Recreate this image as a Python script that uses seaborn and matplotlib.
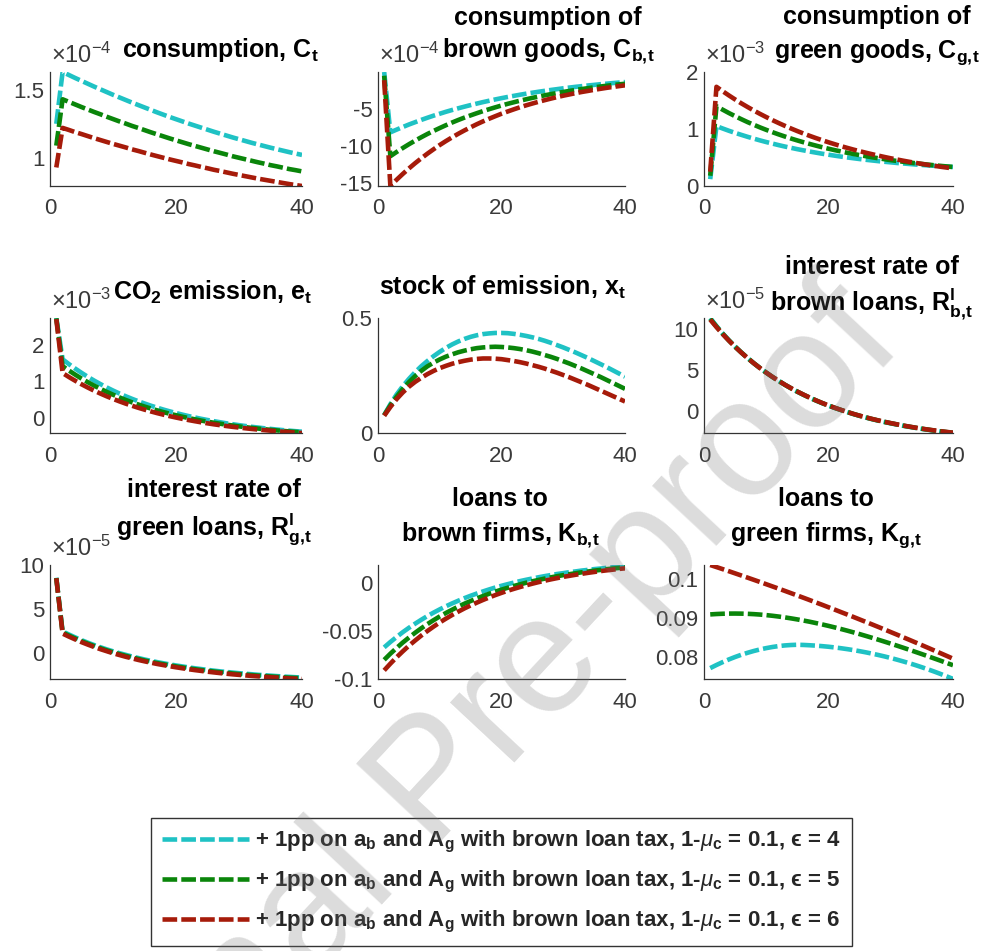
import matplotlib
matplotlib.use("Agg")
import matplotlib.pyplot as plt
import seaborn as sns
import pandas as pd
from matplotlib.ticker import FuncFormatter

# ---------------- data ----------------
t = list(range(1, 41))

run_labels = [
    r"+ 1pp on $\mathbf{a_b}$ and $\mathbf{A_g}$ with brown loan tax, 1-$\mu_\mathbf{c}$ = 0.1, ϵ = 4",
    r"+ 1pp on $\mathbf{a_b}$ and $\mathbf{A_g}$ with brown loan tax, 1-$\mu_\mathbf{c}$ = 0.1, ϵ = 5",
    r"+ 1pp on $\mathbf{a_b}$ and $\mathbf{A_g}$ with brown loan tax, 1-$\mu_\mathbf{c}$ = 0.1, ϵ = 6",
]
run_colors = ["#1FC2C4", "#0A850A", "#A61B0A"]

# consumption C_t (x1e-4)
C_cyan = [1.25, 1.63, 1.608, 1.586, 1.565, 1.544, 1.523, 1.503, 1.483, 1.463, 1.444, 1.425, 1.406, 1.388, 1.370, 1.352, 1.334, 1.317, 1.300, 1.284, 1.268, 1.252, 1.237, 1.222, 1.207, 1.192, 1.178, 1.164, 1.150, 1.137, 1.124, 1.111, 1.099, 1.087, 1.075, 1.064, 1.053, 1.042, 1.032, 1.022]
C_green = [1.09, 1.43, 1.411, 1.392, 1.373, 1.355, 1.337, 1.320, 1.302, 1.285, 1.268, 1.252, 1.235, 1.220, 1.204, 1.188, 1.173, 1.158, 1.143, 1.129, 1.115, 1.101, 1.088, 1.075, 1.062, 1.049, 1.037, 1.025, 1.012, 1.001, 0.990, 0.979, 0.968, 0.958, 0.947, 0.938, 0.928, 0.918, 0.910, 0.901]
C_red = [0.93, 1.22, 1.205, 1.189, 1.175, 1.160, 1.145, 1.131, 1.117, 1.103, 1.090, 1.077, 1.063, 1.051, 1.038, 1.025, 1.013, 1.001, 0.989, 0.978, 0.967, 0.955, 0.945, 0.934, 0.924, 0.913, 0.904, 0.894, 0.884, 0.875, 0.866, 0.857, 0.848, 0.840, 0.832, 0.824, 0.816, 0.808, 0.801, 0.794]

# consumption of brown goods C_b (x1e-4)
Cb_cyan = [-0.10, -8.20, -7.84, -7.49, -7.15, -6.84, -6.53, -6.24, -5.96, -5.70, -5.44, -5.20, -4.97, -4.75, -4.54, -4.34, -4.14, -3.96, -3.78, -3.61, -3.45, -3.30, -3.15, -3.01, -2.88, -2.75, -2.63, -2.51, -2.40, -2.29, -2.19, -2.09, -2.00, -1.91, -1.83, -1.74, -1.67, -1.59, -1.52, -1.45]
Cb_green = [-0.60, -11.40, -10.84, -10.31, -9.80, -9.32, -8.86, -8.42, -8.01, -7.62, -7.24, -6.88, -6.54, -6.22, -5.92, -5.63, -5.35, -5.09, -4.84, -4.60, -4.37, -4.16, -3.95, -3.76, -3.57, -3.40, -3.23, -3.07, -2.92, -2.78, -2.64, -2.51, -2.39, -2.27, -2.16, -2.05, -1.95, -1.85, -1.76, -1.68]
Cb_red = [-1.20, -15.40, -14.57, -13.79, -13.05, -12.35, -11.69, -11.06, -10.47, -9.90, -9.37, -8.87, -8.39, -7.94, -7.52, -7.11, -6.73, -6.37, -6.03, -5.70, -5.40, -5.11, -4.83, -4.57, -4.33, -4.10, -3.88, -3.67, -3.47, -3.28, -3.11, -2.94, -2.78, -2.64, -2.49, -2.36, -2.23, -2.11, -2.00, -1.89]

# consumption of green goods C_g (x1e-3)
Cg_cyan = [0.12, 1.050, 1.009, 0.969, 0.932, 0.897, 0.863, 0.831, 0.800, 0.771, 0.744, 0.717, 0.692, 0.669, 0.646, 0.625, 0.604, 0.585, 0.566, 0.549, 0.532, 0.516, 0.501, 0.487, 0.473, 0.460, 0.448, 0.436, 0.425, 0.415, 0.404, 0.395, 0.386, 0.377, 0.369, 0.361, 0.354, 0.347, 0.340, 0.334]
Cg_green = [0.18, 1.400, 1.339, 1.280, 1.225, 1.172, 1.121, 1.074, 1.028, 0.985, 0.944, 0.905, 0.868, 0.832, 0.799, 0.767, 0.737, 0.708, 0.680, 0.654, 0.629, 0.606, 0.583, 0.562, 0.542, 0.523, 0.504, 0.487, 0.470, 0.454, 0.439, 0.425, 0.412, 0.399, 0.387, 0.375, 0.364, 0.353, 0.343, 0.334]
Cg_red = [0.25, 1.740, 1.663, 1.589, 1.518, 1.450, 1.386, 1.324, 1.265, 1.209, 1.155, 1.104, 1.055, 1.008, 0.963, 0.920, 0.879, 0.840, 0.803, 0.767, 0.733, 0.700, 0.669, 0.639, 0.611, 0.584, 0.558, 0.533, 0.509, 0.486, 0.465, 0.444, 0.424, 0.406, 0.387, 0.370, 0.354, 0.338, 0.323, 0.309]

# CO2 emission e_t (x1e-3)
e_cyan = [2.75, 1.610, 1.477, 1.353, 1.236, 1.125, 1.022, 0.925, 0.833, 0.747, 0.666, 0.590, 0.519, 0.452, 0.389, 0.329, 0.274, 0.221, 0.172, 0.126, 0.082, 0.041, 0.003, -0.034, -0.067, -0.099, -0.129, -0.158, -0.184, -0.209, -0.233, -0.255, -0.275, -0.295, -0.313, -0.330, -0.347, -0.362, -0.376, -0.390]
e_green = [2.74, 1.420, 1.299, 1.185, 1.078, 0.977, 0.883, 0.794, 0.710, 0.632, 0.558, 0.488, 0.423, 0.362, 0.304, 0.250, 0.199, 0.151, 0.106, 0.064, 0.024, -0.014, -0.049, -0.083, -0.113, -0.143, -0.170, -0.196, -0.220, -0.243, -0.265, -0.285, -0.303, -0.321, -0.338, -0.354, -0.369, -0.383, -0.396, -0.408]
e_red = [2.72, 1.230, 1.120, 1.017, 0.920, 0.829, 0.743, 0.663, 0.587, 0.516, 0.449, 0.386, 0.327, 0.271, 0.219, 0.170, 0.123, 0.080, 0.039, 0.001, -0.035, -0.069, -0.101, -0.131, -0.159, -0.186, -0.210, -0.234, -0.256, -0.276, -0.296, -0.314, -0.331, -0.347, -0.362, -0.377, -0.390, -0.403, -0.415, -0.426]

# stock of emission x_t
x_cyan = [0.078, 0.125, 0.167, 0.203, 0.235, 0.264, 0.290, 0.313, 0.334, 0.353, 0.370, 0.385, 0.398, 0.409, 0.418, 0.425, 0.430, 0.433, 0.435, 0.435, 0.434, 0.431, 0.427, 0.422, 0.416, 0.409, 0.401, 0.392, 0.382, 0.372, 0.361, 0.350, 0.338, 0.326, 0.313, 0.300, 0.287, 0.273, 0.259, 0.245]
x_green = [0.077, 0.120, 0.157, 0.191, 0.221, 0.247, 0.270, 0.290, 0.306, 0.320, 0.332, 0.342, 0.351, 0.358, 0.364, 0.369, 0.372, 0.374, 0.375, 0.374, 0.372, 0.369, 0.365, 0.360, 0.354, 0.347, 0.339, 0.331, 0.322, 0.312, 0.302, 0.291, 0.280, 0.268, 0.256, 0.244, 0.231, 0.218, 0.205, 0.192]
x_red = [0.075, 0.113, 0.147, 0.176, 0.201, 0.222, 0.240, 0.256, 0.270, 0.282, 0.292, 0.301, 0.308, 0.314, 0.319, 0.322, 0.324, 0.324, 0.323, 0.321, 0.317, 0.313, 0.308, 0.302, 0.295, 0.288, 0.280, 0.271, 0.262, 0.252, 0.242, 0.231, 0.220, 0.209, 0.197, 0.185, 0.173, 0.161, 0.149, 0.137]

# interest rate of brown loans R^l_b (x1e-5)
Rb_cyan = [11.40, 10.42, 9.51, 8.68, 7.90, 7.18, 6.50, 5.87, 5.27, 4.71, 4.18, 3.69, 3.22, 2.78, 2.37, 1.99, 1.63, 1.29, 0.97, 0.67, 0.39, 0.13, -0.12, -0.36, -0.58, -0.79, -0.99, -1.17, -1.34, -1.50, -1.65, -1.80, -1.93, -2.06, -2.18, -2.29, -2.40, -2.50, -2.59, -2.68]
Rb_green = [11.30, 10.35, 9.47, 8.65, 7.88, 7.17, 6.50, 5.86, 5.27, 4.71, 4.18, 3.69, 3.22, 2.79, 2.38, 2.00, 1.64, 1.30, 0.98, 0.68, 0.40, 0.14, -0.11, -0.35, -0.57, -0.78, -0.97, -1.15, -1.32, -1.48, -1.63, -1.78, -1.91, -2.04, -2.16, -2.27, -2.38, -2.48, -2.57, -2.66]
Rb_red = [11.20, 10.29, 9.43, 8.63, 7.87, 7.16, 6.49, 5.86, 5.27, 4.71, 4.19, 3.70, 3.23, 2.80, 2.39, 2.01, 1.65, 1.31, 0.99, 0.69, 0.41, 0.15, -0.10, -0.34, -0.56, -0.76, -0.96, -1.14, -1.31, -1.47, -1.62, -1.77, -1.90, -2.03, -2.15, -2.26, -2.36, -2.46, -2.55, -2.64]

# interest rate of green loans R^l_g (x1e-5)
Rg_cyan = [8.55, 2.45, 2.10, 1.77, 1.46, 1.17, 0.90, 0.65, 0.41, 0.19, -0.02, -0.21, -0.40, -0.57, -0.74, -0.89, -1.04, -1.17, -1.30, -1.42, -1.53, -1.64, -1.74, -1.83, -1.92, -2.01, -2.09, -2.16, -2.23, -2.30, -2.36, -2.42, -2.48, -2.53, -2.58, -2.63, -2.68, -2.72, -2.76, -2.80]
Rg_green = [8.52, 2.32, 1.98, 1.65, 1.34, 1.06, 0.79, 0.54, 0.30, 0.08, -0.13, -0.32, -0.51, -0.68, -0.85, -1.00, -1.15, -1.28, -1.41, -1.53, -1.64, -1.75, -1.85, -1.94, -2.03, -2.11, -2.19, -2.26, -2.33, -2.40, -2.46, -2.52, -2.57, -2.62, -2.67, -2.72, -2.77, -2.81, -2.84, -2.88]
Rg_red = [8.50, 2.20, 1.86, 1.54, 1.23, 0.95, 0.68, 0.43, 0.20, -0.03, -0.23, -0.43, -0.61, -0.79, -0.95, -1.10, -1.25, -1.38, -1.51, -1.63, -1.74, -1.85, -1.95, -2.04, -2.13, -2.21, -2.29, -2.36, -2.43, -2.49, -2.55, -2.61, -2.66, -2.71, -2.76, -2.80, -2.85, -2.89, -2.92, -2.96]

# loans to brown firms K_b
Kb_cyan = [-0.0670, -0.0614, -0.0562, -0.0512, -0.0466, -0.0423, -0.0382, -0.0343, -0.0307, -0.0273, -0.0241, -0.0211, -0.0183, -0.0156, -0.0131, -0.0108, -0.0086, -0.0065, -0.0045, -0.0027, -0.0010, 0.0006, 0.0022, 0.0036, 0.0049, 0.0062, 0.0074, 0.0085, 0.0096, 0.0105, 0.0115, 0.0123, 0.0132, 0.0139, 0.0147, 0.0153, 0.0160, 0.0166, 0.0171, 0.0177]
Kb_green = [-0.0800, -0.0736, -0.0677, -0.0620, -0.0568, -0.0518, -0.0471, -0.0427, -0.0386, -0.0347, -0.0311, -0.0277, -0.0244, -0.0214, -0.0186, -0.0159, -0.0134, -0.0110, -0.0088, -0.0067, -0.0048, -0.0029, -0.0012, 0.0005, 0.0020, 0.0034, 0.0048, 0.0061, 0.0073, 0.0084, 0.0094, 0.0104, 0.0114, 0.0122, 0.0131, 0.0138, 0.0146, 0.0153, 0.0159, 0.0165]
Kb_red = [-0.0910, -0.0840, -0.0774, -0.0712, -0.0653, -0.0599, -0.0547, -0.0499, -0.0453, -0.0410, -0.0370, -0.0332, -0.0297, -0.0263, -0.0232, -0.0203, -0.0175, -0.0149, -0.0124, -0.0101, -0.0079, -0.0059, -0.0040, -0.0022, -0.0005, 0.0011, 0.0026, 0.0040, 0.0053, 0.0066, 0.0077, 0.0088, 0.0098, 0.0108, 0.0117, 0.0126, 0.0134, 0.0141, 0.0149, 0.0155]

# loans to green firms K_g
Kg_cyan = [0.07720, 0.07800, 0.07874, 0.07943, 0.08006, 0.08063, 0.08114, 0.08160, 0.08200, 0.08234, 0.08263, 0.08286, 0.08303, 0.08314, 0.08320, 0.08315, 0.08307, 0.08297, 0.08284, 0.08269, 0.08251, 0.08231, 0.08208, 0.08183, 0.08155, 0.08125, 0.08092, 0.08057, 0.08020, 0.07980, 0.07937, 0.07892, 0.07845, 0.07795, 0.07742, 0.07687, 0.07630, 0.07570, 0.07507, 0.07442]
Kg_green = [0.09100, 0.09110, 0.09117, 0.09121, 0.09122, 0.09120, 0.09115, 0.09107, 0.09096, 0.09082, 0.09065, 0.09045, 0.09023, 0.08998, 0.08971, 0.08942, 0.08911, 0.08877, 0.08842, 0.08805, 0.08766, 0.08725, 0.08683, 0.08639, 0.08594, 0.08547, 0.08499, 0.08450, 0.08400, 0.08349, 0.08297, 0.08244, 0.08190, 0.08135, 0.08080, 0.08024, 0.07967, 0.07910, 0.07852, 0.07794]
Kg_red = [0.10370, 0.10317, 0.10264, 0.10210, 0.10155, 0.10100, 0.10045, 0.09989, 0.09933, 0.09876, 0.09819, 0.09762, 0.09704, 0.09645, 0.09586, 0.09527, 0.09467, 0.09406, 0.09346, 0.09284, 0.09223, 0.09160, 0.09098, 0.09035, 0.08971, 0.08907, 0.08843, 0.08778, 0.08712, 0.08646, 0.08580, 0.08513, 0.08446, 0.08378, 0.08310, 0.08241, 0.08172, 0.08103, 0.08033, 0.07962]

panel_titles = [
    ["consumption, $\\mathbf{C_t}$"],
    ["consumption of", "brown goods, $\\mathbf{C_{b,\\!t}}$"],
    ["consumption of", "green goods, $\\mathbf{C_{g,\\!t}}$"],
    ["CO$\\mathbf{_2}$ emission, $\\mathbf{e_t}$"],
    ["stock of emission, $\\mathbf{x_t}$"],
    ["interest rate of", "brown loans, $\\mathbf{R^l_{b,\\!t}}$"],
    ["interest rate of", "green loans, $\\mathbf{R^l_{g,\\!t}}$"],
    ["loans to", "brown firms, $\\mathbf{K_{b,\\!t}}$"],
    ["loans to", "green firms, $\\mathbf{K_{g,\\!t}}$"],
]
panel_series = [
    (C_cyan, C_green, C_red),
    (Cb_cyan, Cb_green, Cb_red),
    (Cg_cyan, Cg_green, Cg_red),
    (e_cyan, e_green, e_red),
    (x_cyan, x_green, x_red),
    (Rb_cyan, Rb_green, Rb_red),
    (Rg_cyan, Rg_green, Rg_red),
    (Kb_cyan, Kb_green, Kb_red),
    (Kg_cyan, Kg_green, Kg_red),
]
panel_exponents = ["-4", "-4", "-3", "-3", None, "-5", "-5", None, None]
panel_yticks = [
    [1, 1.5], [-15, -10, -5], [0, 1, 2], [0, 1, 2], [0, 0.5],
    [0, 5, 10], [0, 5, 10], [-0.1, -0.05, 0], [0.08, 0.09, 0.1],
]
x_ticks = [0, 20, 40]

# ---------------- layout (pixels in a 995 x 951 canvas) ----------------
W, H = 995, 951
col_left = [50, 378, 704]
col_width = [252, 247, 249]
row_top = [72, 318, 565]
row_bottom = [186, 433, 679]
panel_ylim = [
    (0.794, 1.63), (-15.4, -0.1), (0, 2), (-0.426, 2.75), (0, 0.5),
    (-2.68, 11.4), (-2.96, 10), (-0.1, 0.019), (0.0744, 0.1037),
]
title_cx = [220, 548, 877, 213, 502, 872, 214, 500, 826]
title_base = [[57], [25, 57], [24, 58], [300], [295], [274, 311], [497, 535], [506, 541], [506, 541]]

# ---------------- style ----------------
sns.set_theme(style="white")
plt.rcParams["font.family"] = ["Liberation Sans", "DejaVu Sans"]
plt.rcParams["mathtext.fontset"] = "custom"
plt.rcParams["mathtext.rm"] = "Liberation Sans"
plt.rcParams["mathtext.it"] = "Liberation Sans:italic"
plt.rcParams["mathtext.bf"] = "Liberation Sans:bold"
plt.rcParams["mathtext.fallback"] = "cm"

axis_grey = "#333333"
label_grey = "#3a3a3a"
dash = (3.2, 0.9)
lw = 3.3

fig = plt.figure(figsize=(W / 100, H / 100), dpi=100)
fig.patch.set_facecolor("white")

legend_handles = None
for i in range(9):
    r, c = divmod(i, 3)
    left = col_left[c] / W
    bottom = 1 - row_bottom[r] / H
    width = col_width[c] / W
    height = (row_bottom[r] - row_top[r]) / H
    ax = fig.add_axes([left, bottom, width, height])

    s_cyan, s_green, s_red = panel_series[i]
    df = pd.DataFrame({
        "t": t * 3,
        "v": list(s_cyan) + list(s_green) + list(s_red),
        "run": [run_labels[0]] * 40 + [run_labels[1]] * 40 + [run_labels[2]] * 40,
    })
    sns.lineplot(data=df, x="t", y="v", hue="run", hue_order=run_labels,
                 palette=run_colors, style="run", style_order=run_labels,
                 dashes=[dash] * 3, linewidth=lw, estimator=None, sort=False,
                 legend=False, ax=ax)
    for ln in ax.get_lines():
        ln.set_dash_capstyle("butt")
    if legend_handles is None:
        legend_handles = ax.get_lines()[:3]

    ax.set_xlim(0, 40)
    ax.set_ylim(*panel_ylim[i])
    ax.set_xticks(x_ticks)
    ax.set_yticks(panel_yticks[i])
    fmt = FuncFormatter(lambda v, p: "%g" % round(v, 6))
    ax.xaxis.set_major_formatter(fmt)
    ax.yaxis.set_major_formatter(fmt)
    ax.set_xlabel("")
    ax.set_ylabel("")
    for side in ["top", "right"]:
        ax.spines[side].set_visible(False)
    for side in ["left", "bottom"]:
        ax.spines[side].set_color(axis_grey)
        ax.spines[side].set_linewidth(0.9)
    ax.tick_params(direction="in", length=3, width=0.9, colors=axis_grey,
                   labelsize=16, labelcolor=label_grey)
    ax.tick_params(axis="x", pad=9)
    ax.tick_params(axis="y", pad=4)
    ax.set_facecolor("white")

    # exponent label (MATLAB style)
    if panel_exponents[i] is not None:
        fig.text((col_left[c] + 1) / W, 1 - (row_top[r] - 9) / H,
                 r"$\times\mathrm{10^{%s}}$" % panel_exponents[i],
                 ha="left", va="baseline", fontsize=17, color=label_grey)

    # titles
    for line, yb in zip(panel_titles[i], title_base[i]):
        fig.text(title_cx[i] / W, 1 - yb / H, line, ha="center", va="baseline",
                 fontsize=18, fontweight="bold", color="black")

leg = fig.legend(legend_handles, run_labels, loc="center",
                 bbox_to_anchor=(501.5 / W, 1 - 882 / H),
                 prop={"family": ["Liberation Sans", "DejaVu Sans"], "weight": "bold", "size": 16},
                 frameon=True, fancybox=False, framealpha=1, edgecolor="#333333",
                 handlelength=3.9, handletextpad=0.3, labelspacing=0.62,
                 borderpad=0.5, borderaxespad=0)
leg.get_frame().set_linewidth(1.0)

# watermark
fig.text(435 / W, 1 - 785 / H, "Journal Pre-proof", rotation=47, fontsize=120,
         color="0.45", alpha=0.25, ha="center", va="center",
         rotation_mode="anchor", zorder=20)

fig.savefig("out.png", dpi=100, facecolor="white")
